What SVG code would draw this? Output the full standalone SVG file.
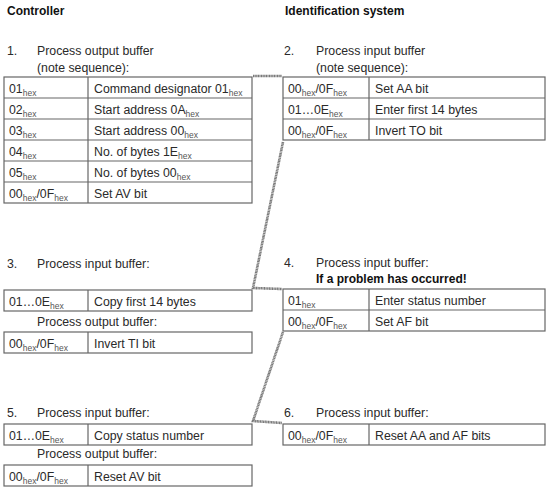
<svg xmlns="http://www.w3.org/2000/svg" width="551" height="493" viewBox="0 0 551 493">
<style>
text{font-family:"Liberation Sans",Arial,sans-serif;font-size:12.3px;fill:#2a2a2a}
.h{font-weight:bold;fill:#111;font-size:12px}
.s{font-size:8.5px;fill:#555}
.b{fill:#fff;stroke:#666;stroke-width:1.2}
.d{stroke:#666;stroke-width:1.2}
.c{fill:none;stroke:#7a7a7a;stroke-width:2.6;stroke-dasharray:1.2 0.4}
</style>
<rect width="551" height="493" fill="#fff"/>
<text class="h" x="7" y="15">Controller</text>
<text class="h" x="285" y="15">Identification system</text>

<g id="step1">
<text x="7" y="55">1.</text>
<text x="37" y="55">Process output buffer</text>
<text x="37" y="72">(note sequence):</text>
<rect class="b" x="4" y="77" width="248" height="126"/>
<line class="d" x1="88" y1="77" x2="88" y2="203"/>
<line class="d" x1="4" y1="98" x2="252" y2="98"/>
<line class="d" x1="4" y1="119" x2="252" y2="119"/>
<line class="d" x1="4" y1="140" x2="252" y2="140"/>
<line class="d" x1="4" y1="161" x2="252" y2="161"/>
<line class="d" x1="4" y1="182" x2="252" y2="182"/>
<text x="9" y="93">01<tspan class="s" dy="3">hex</tspan></text>
<text x="94" y="93">Command designator 01<tspan class="s" dy="3">hex</tspan></text>
<text x="9" y="114">02<tspan class="s" dy="3">hex</tspan></text>
<text x="94" y="114">Start address 0A<tspan class="s" dy="3">hex</tspan></text>
<text x="9" y="135">03<tspan class="s" dy="3">hex</tspan></text>
<text x="94" y="135">Start address 00<tspan class="s" dy="3">hex</tspan></text>
<text x="9" y="156">04<tspan class="s" dy="3">hex</tspan></text>
<text x="94" y="156">No. of bytes 1E<tspan class="s" dy="3">hex</tspan></text>
<text x="9" y="177">05<tspan class="s" dy="3">hex</tspan></text>
<text x="94" y="177">No. of bytes 00<tspan class="s" dy="3">hex</tspan></text>
<text x="9" y="198">00<tspan class="s" dy="3">hex</tspan><tspan dy="-3">/0F</tspan><tspan class="s" dy="3">hex</tspan></text>
<text x="94" y="198">Set AV bit</text>
</g>

<g id="step2">
<text x="284" y="55">2.</text>
<text x="316" y="55">Process input buffer</text>
<text x="316" y="72">(note sequence):</text>
<rect class="b" x="283" y="77" width="262" height="63"/>
<line class="d" x1="369" y1="77" x2="369" y2="140"/>
<line class="d" x1="283" y1="98" x2="545" y2="98"/>
<line class="d" x1="283" y1="119" x2="545" y2="119"/>
<text x="288" y="93">00<tspan class="s" dy="3">hex</tspan><tspan dy="-3">/0F</tspan><tspan class="s" dy="3">hex</tspan></text>
<text x="375" y="93">Set AA bit</text>
<text x="288" y="114">01…0E<tspan class="s" dy="3">hex</tspan></text>
<text x="375" y="114">Enter first 14 bytes</text>
<text x="288" y="135">00<tspan class="s" dy="3">hex</tspan><tspan dy="-3">/0F</tspan><tspan class="s" dy="3">hex</tspan></text>
<text x="375" y="135">Invert TO bit</text>
</g>

<g id="step3">
<text x="7" y="268">3.</text>
<text x="37" y="268">Process input buffer:</text>
<rect class="b" x="4" y="290" width="248" height="21"/>
<line class="d" x1="88" y1="290" x2="88" y2="311"/>
<text x="9" y="306">01…0E<tspan class="s" dy="3">hex</tspan></text>
<text x="94" y="306">Copy first 14 bytes</text>
<text x="37" y="326">Process output buffer:</text>
<rect class="b" x="4" y="332" width="248" height="21"/>
<line class="d" x1="88" y1="332" x2="88" y2="353"/>
<text x="9" y="348">00<tspan class="s" dy="3">hex</tspan><tspan dy="-3">/0F</tspan><tspan class="s" dy="3">hex</tspan></text>
<text x="94" y="348">Invert TI bit</text>
</g>

<g id="step4">
<text x="284" y="267">4.</text>
<text x="316" y="267">Process input buffer:</text>
<text class="h" x="316" y="283">If a problem has occurred!</text>
<rect class="b" x="283" y="289" width="262" height="42"/>
<line class="d" x1="369" y1="289" x2="369" y2="331"/>
<line class="d" x1="283" y1="310" x2="545" y2="310"/>
<text x="288" y="305">01<tspan class="s" dy="3">hex</tspan></text>
<text x="375" y="305">Enter status number</text>
<text x="288" y="326">00<tspan class="s" dy="3">hex</tspan><tspan dy="-3">/0F</tspan><tspan class="s" dy="3">hex</tspan></text>
<text x="375" y="326">Set AF bit</text>
</g>

<g id="step5">
<text x="7" y="417">5.</text>
<text x="37" y="417">Process input buffer:</text>
<rect class="b" x="4" y="424" width="248" height="21"/>
<line class="d" x1="88" y1="424" x2="88" y2="445"/>
<text x="9" y="440">01…0E<tspan class="s" dy="3">hex</tspan></text>
<text x="94" y="440">Copy status number</text>
<text x="37" y="458">Process output buffer:</text>
<rect class="b" x="4" y="465" width="248" height="21"/>
<line class="d" x1="88" y1="465" x2="88" y2="486"/>
<text x="9" y="481">00<tspan class="s" dy="3">hex</tspan><tspan dy="-3">/0F</tspan><tspan class="s" dy="3">hex</tspan></text>
<text x="94" y="481">Reset AV bit</text>
</g>

<g id="step6">
<text x="284" y="417">6.</text>
<text x="316" y="417">Process input buffer:</text>
<rect class="b" x="283" y="424" width="262" height="21"/>
<line class="d" x1="369" y1="424" x2="369" y2="445"/>
<text x="288" y="440">00<tspan class="s" dy="3">hex</tspan><tspan dy="-3">/0F</tspan><tspan class="s" dy="3">hex</tspan></text>
<text x="375" y="440">Reset AA and AF bits</text>
</g>

<g id="connectors">
<polyline class="c" points="253,76 282,76"/>
<polyline class="c" points="283,142 253,288 282,289"/>
<polyline class="c" points="283,332 253,421 282,423"/>
</g>
</svg>
